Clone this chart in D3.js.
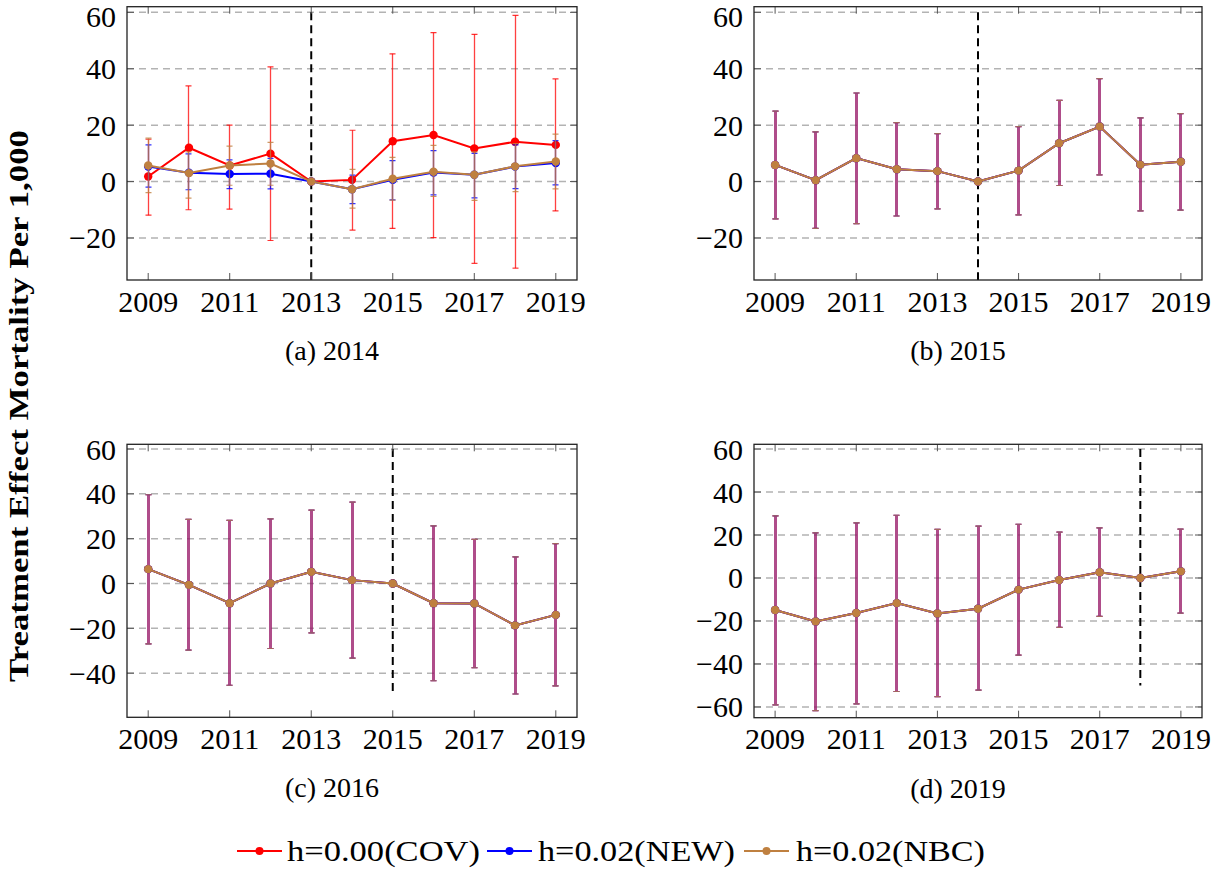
<!DOCTYPE html>
<html><head><meta charset="utf-8">
<script src="https://cdn.jsdelivr.net/npm/d3@7"></script>
<style>body{margin:0;background:#fff}</style>
</head><body>
<svg id="chart" width="1215" height="871" xmlns="http://www.w3.org/2000/svg"></svg>
<script>
// ---------- DATA ----------
const years = [2009, 2010, 2011, 2012, 2013, 2014, 2015, 2016, 2017, 2018, 2019];
const xTickYears = [2009, 2011, 2013, 2015, 2017, 2019];
const seriesNames = ["h=0.00(COV)", "h=0.02(NEW)", "h=0.02(NBC)"];
const captions = ["(a) 2014", "(b) 2015", "(c) 2016", "(d) 2019"];
const treatYears = [2013, 2014, 2015, 2018];
const yTicksAB = [-20, 0, 20, 40, 60];
const yTicksC = [-40, -20, 0, 20, 40, 60];
const yTicksD = [-60, -40, -20, 0, 20, 40, 60];
const treatLineRange = [-50, 60];

// Panel (a) 2014
const a_cov_est = [1.8, 12.0, 5.7, 9.9, 0, 0.6, 14.3, 16.5, 11.7, 14.1, 13.0];
const a_cov_lo  = [-11.9, -10.0, -9.8, -20.9, 0, -17.2, -16.6, -19.9, -29.0, -30.7, -10.4];
const a_cov_hi  = [15.0, 33.9, 20.0, 40.7, 0, 18.2, 45.3, 52.8, 52.2, 58.9, 36.4];
const a_new_est = [5.3, 3.1, 2.7, 2.8, 0, -2.7, 0.6, 3.2, 2.4, 5.3, 6.6];
const a_new_lo  = [-2.0, -2.9, -2.5, -2.6, 0, -7.8, -6.5, -4.7, -5.8, -2.5, -1.2];
const a_new_hi  = [13.0, 9.8, 7.7, 8.2, 0, 2.3, 7.4, 11.0, 10.0, 13.0, 14.5];
const a_nbc_est = [5.7, 3.0, 5.7, 6.4, 0, -2.7, 1.0, 3.5, 2.4, 5.4, 7.1];
const a_nbc_lo  = [-3.9, -5.9, -1.3, -1.3, 0, -9.4, -6.6, -5.3, -6.7, -3.6, -2.6];
const a_nbc_hi  = [15.4, 10.5, 12.6, 13.9, 0, 4.3, 8.6, 12.8, 10.5, 13.5, 16.8];

// Panel (b) 2015 (all three estimators coincide)
const b_est = [5.9, 0.5, 8.3, 4.4, 3.7, 0, 3.9, 13.6, 19.5, 6.0, 7.0];
const b_lo  = [-13.2, -16.6, -14.9, -12.2, -9.7, 0, -11.8, -1.4, 2.4, -10.4, -10.1];
const b_hi  = [25.0, 17.6, 31.4, 20.9, 17.0, 0, 19.5, 28.8, 36.5, 22.6, 24.1];

// Panel (c) 2016
const c_est = [6.4, -0.6, -8.8, 0.0, 5.2, 1.5, 0, -8.8, -8.9, -18.7, -14.0];
const c_lo  = [-26.9, -29.7, -45.4, -29.0, -22.0, -33.3, 0, -43.4, -37.6, -49.3, -45.7];
const c_hi  = [39.6, 28.6, 28.2, 28.8, 32.7, 36.3, 0, 25.7, 19.7, 11.9, 17.8];

// Panel (d) 2019
const d_est = [-14.9, -20.2, -16.3, -11.7, -16.5, -14.3, -5.4, -0.9, 2.7, 0, 3.1];
const d_lo  = [-59.0, -61.7, -58.6, -52.8, -55.2, -52.2, -35.9, -23.0, -17.9, 0, -16.3];
const d_hi  = [28.9, 21.0, 25.6, 29.2, 22.6, 24.1, 25.0, 21.3, 23.3, 0, 22.7];

// ---------- STYLE / LAYOUT ----------
const colors = ["#ff0000", "#0000ff", "#bf8040"];
const FONT = "'Liberation Serif', 'Times New Roman', serif";
const panels = [
  { x0: 127, x1: 577, y0: 6.7, y1: 280, yDom: [-34.9, 62], yTicks: yTicksAB, treat: treatYears[0], cap: captions[0],
    series: [[a_cov_est, a_cov_lo, a_cov_hi], [a_new_est, a_new_lo, a_new_hi], [a_nbc_est, a_nbc_lo, a_nbc_hi]] },
  { x0: 754, x1: 1202, y0: 6.7, y1: 280, yDom: [-34.9, 62], yTicks: yTicksAB, treat: treatYears[1], cap: captions[1],
    series: [[b_est, b_lo, b_hi], [b_est, b_lo, b_hi], [b_est, b_lo, b_hi]] },
  { x0: 127, x1: 577, y0: 444.3, y1: 717.3, yDom: [-59.7, 62.1], yTicks: yTicksC, treat: treatYears[2], cap: captions[2],
    series: [[c_est, c_lo, c_hi], [c_est, c_lo, c_hi], [c_est, c_lo, c_hi]] },
  { x0: 754, x1: 1202, y0: 444.3, y1: 717.7, yDom: [-65, 62.2], yTicks: yTicksD, treat: treatYears[3], cap: captions[3],
    series: [[d_est, d_lo, d_hi], [d_est, d_lo, d_hi], [d_est, d_lo, d_hi]] }
];

const svg = d3.select("#chart");
const fmt = v => (v < 0 ? "\u2212" + Math.abs(v) : String(v));

panels.forEach((p, pi) => {
  const x = d3.scaleLinear().domain([2008.48, 2019.52]).range([p.x0, p.x1]);
  const y = d3.scaleLinear().domain(p.yDom).range([p.y1, p.y0]);
  const xs = v => Math.floor(x(v)) + 0.5; // pixel-snapped x for error bars
  const g = svg.append("g");
  const clipId = "clip" + pi;
  svg.append("clipPath").attr("id", clipId).append("rect")
    .attr("x", p.x0).attr("y", p.y0).attr("width", p.x1 - p.x0).attr("height", p.y1 - p.y0);

  // grid
  g.selectAll(".grid").data(p.yTicks).enter().append("line")
    .attr("x1", p.x0).attr("x2", p.x1).attr("y1", d => y(d)).attr("y2", d => y(d))
    .attr("stroke", "#b3b3b3").attr("stroke-width", 1.5).attr("stroke-dasharray", "7,5");

  const plot = g.append("g").attr("clip-path", `url(#${clipId})`);
  // treatment line
  plot.append("line")
    .attr("x1", x(p.treat)).attr("x2", x(p.treat))
    .attr("y1", y(treatLineRange[1])).attr("y2", y(treatLineRange[0]))
    .attr("stroke", "#000").attr("stroke-width", 2).attr("stroke-dasharray", "8,5");

  // series
  const shared = pi > 0;
  p.series.forEach((s, si) => {
    const [est, lo, hi] = s;
    const pts = years.map((yr, i) => ({ yr, v: est[i], lo: lo[i], hi: hi[i] }));
    const sg = plot.append("g");
    const eb = pts.filter(d => d.hi !== d.lo);
    const ebW = !shared ? 1.3 : 3;
    const ebO = !shared ? 0.75 : [0.6, 0.32, 0.15][si];
    sg.selectAll(".eb").data(eb).enter().append("line")
      .attr("x1", d => xs(d.yr)).attr("x2", d => xs(d.yr))
      .attr("y1", d => y(d.lo)).attr("y2", d => y(d.hi))
      .attr("stroke", colors[si]).attr("stroke-width", ebW).attr("stroke-opacity", ebO);
    ["lo", "hi"].forEach(k => {
      sg.selectAll(".cap" + k).data(eb).enter().append("line")
        .attr("x1", d => xs(d.yr) - 3).attr("x2", d => xs(d.yr) + 3)
        .attr("y1", d => y(d[k])).attr("y2", d => y(d[k]))
        .attr("stroke", colors[si]).attr("stroke-width", 1.2).attr("stroke-opacity", 0.8);
    });
    sg.append("path").datum(pts)
      .attr("d", d3.line().x(d => x(d.yr)).y(d => y(d.v)))
      .attr("fill", "none").attr("stroke", colors[si]).attr("stroke-width", 2);
    sg.selectAll(".mk").data(pts).enter().append("circle")
      .attr("cx", d => x(d.yr)).attr("cy", d => y(d.v)).attr("r", 4.2)
      .attr("fill", colors[si]);
  });

  // axes ticks (inward, all four sides)
  const tk = 7;
  xTickYears.forEach(t => {
    g.append("line").attr("x1", x(t)).attr("x2", x(t)).attr("y1", p.y1).attr("y2", p.y1 - tk)
      .attr("stroke", "#555").attr("stroke-width", 1);
    g.append("line").attr("x1", x(t)).attr("x2", x(t)).attr("y1", p.y0).attr("y2", p.y0 + tk)
      .attr("stroke", "#555").attr("stroke-width", 1);
  });
  p.yTicks.forEach(t => {
    g.append("line").attr("x1", p.x0).attr("x2", p.x0 + tk).attr("y1", y(t)).attr("y2", y(t))
      .attr("stroke", "#555").attr("stroke-width", 1);
    g.append("line").attr("x1", p.x1).attr("x2", p.x1 - tk).attr("y1", y(t)).attr("y2", y(t))
      .attr("stroke", "#555").attr("stroke-width", 1);
  });
  // frame
  g.append("rect").attr("x", p.x0).attr("y", p.y0).attr("width", p.x1 - p.x0).attr("height", p.y1 - p.y0)
    .attr("fill", "none").attr("stroke", "#222").attr("stroke-width", 1.3);

  // tick labels
  g.selectAll(".xl").data(xTickYears).enter().append("text")
    .attr("x", d => x(d)).attr("y", p.y1 + 31.5).attr("text-anchor", "middle")
    .attr("font-family", FONT).attr("font-size", 30).attr("fill", "#000").text(d => d);
  g.selectAll(".yl").data(p.yTicks).enter().append("text")
    .attr("x", p.x0 - 11).attr("y", d => Math.max(y(d) + 10.5, 27)).attr("text-anchor", "end")
    .attr("font-family", FONT).attr("font-size", 30).attr("fill", "#000").text(fmt);

  // caption
  g.append("text").attr("x", (p.x0 + p.x1) / 2 - 20).attr("y", p.y1 + 80).attr("text-anchor", "middle")
    .attr("font-family", FONT).attr("font-size", 28).attr("fill", "#000").text(p.cap);
});

// y label
svg.append("text")
  .attr("transform", "translate(28,406) rotate(-90)")
  .attr("text-anchor", "middle")
  .attr("font-family", FONT).attr("font-weight", "bold").attr("font-size", 28)
  .attr("textLength", 552).attr("lengthAdjust", "spacingAndGlyphs")
  .text("Treatment Effect Mortality Per 1,000");

// legend
const legendItems = [
  { lx: 237, tx: 287, tw: 193 },
  { lx: 487, tx: 538, tw: 197 },
  { lx: 744, tx: 796, tw: 189 }
];
const ly = 851;
const lg = svg.append("g");
seriesNames.forEach((name, i) => {
  const it = legendItems[i];
  lg.append("line").attr("x1", it.lx).attr("x2", it.lx + 45).attr("y1", ly).attr("y2", ly)
    .attr("stroke", colors[i]).attr("stroke-width", 2);
  lg.append("circle").attr("cx", it.lx + 22.5).attr("cy", ly).attr("r", 4).attr("fill", colors[i]);
  lg.append("text").attr("x", it.tx).attr("y", ly + 10).attr("font-family", FONT).attr("font-size", 30)
    .attr("textLength", it.tw).attr("lengthAdjust", "spacingAndGlyphs").attr("fill", "#000").text(name);
});
</script>
</body></html>
